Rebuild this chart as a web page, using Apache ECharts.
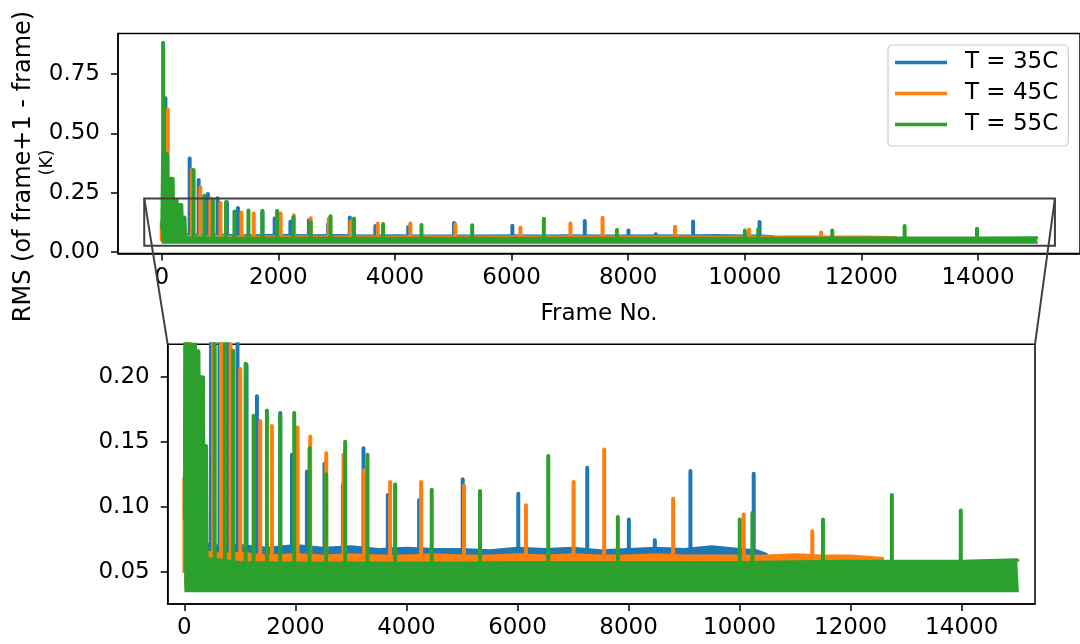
<!DOCTYPE html>
<html>
<head>
<meta charset="utf-8">
<script src="https://cdn.jsdelivr.net/npm/echarts@6/dist/echarts.min.js"></script>
<style>
  html, body { margin: 0; padding: 0; background: #fff; }
  #main { width: 1080px; height: 644px; }
</style>
</head>
<body>
<div id="main"></div>
<script>
// runs
const runNames = ["T = 35C", "T = 45C", "T = 55C"];
const runColors = ["#1f77b4", "#ff7f0e", "#2ca02c"];

// dense noisy part of each run: frame, upper edge (lower edge is a constant)
const bandFrames35 = [0, 400, 700, 1000, 1500, 2000, 2500, 3000, 3500, 4000, 4500, 5000, 5500, 6000, 6500, 7000, 7500, 8000, 8500, 9000, 9500, 10000, 10300, 10500];
const bandTop35 = [0.060, 0.071, 0.069, 0.070, 0.068, 0.070, 0.068, 0.069, 0.067, 0.068, 0.067, 0.067, 0.066, 0.068, 0.067, 0.068, 0.066, 0.067, 0.068, 0.067, 0.069, 0.067, 0.066, 0.063];
const bandBottom35 = 0.040;

const bandFrames45 = [0, 400, 700, 1000, 1500, 2000, 2500, 3000, 3500, 4000, 4500, 5000, 5500, 6000, 6500, 7000, 7500, 8000, 8500, 9000, 9500, 10000, 10500, 11000, 11500, 12000, 12600];
const bandTop45 = [0.060, 0.065, 0.063, 0.064, 0.062, 0.063, 0.062, 0.063, 0.062, 0.062, 0.063, 0.062, 0.062, 0.063, 0.062, 0.063, 0.062, 0.062, 0.063, 0.062, 0.062, 0.062, 0.062, 0.063, 0.062, 0.062, 0.060];
const bandBottom45 = 0.038;

const bandFrames55 = [0, 12, 16, 100, 104, 196, 200, 262, 266, 345, 350, 400, 410, 1000, 2000, 3000, 4000, 5000, 6000, 7000, 8000, 9000, 10000, 11000, 12000, 13000, 14000, 15000, 15030];
const bandTop55 = [0.090, 0.090, 0.415, 0.415, 0.310, 0.310, 0.220, 0.220, 0.200, 0.200, 0.147, 0.147, 0.060, 0.057, 0.0565, 0.0565, 0.0565, 0.0565, 0.057, 0.057, 0.057, 0.057, 0.057, 0.0575, 0.058, 0.058, 0.058, 0.059, 0.058];
const bandBottom55 = 0.034;

// isolated spikes: frame, peak value
const spikeFrames35 = [63, 479, 633, 793, 957, 1120, 1307, 1727, 1937, 2207, 2524, 2855, 3226, 3664, 4228, 5013, 6014, 7256, 8005, 8473, 9114, 10254];
const spikePeaks35 = [0.648, 0.394, 0.303, 0.244, 0.226, 0.209, 0.185, 0.172, 0.140, 0.127, 0.133, 0.117, 0.145, 0.109, 0.105, 0.121, 0.110, 0.130, 0.090, 0.074, 0.1275, 0.1254];

const spikeFrames45 = [0, 103, 519, 661, 833, 1007, 1367, 1577, 2039, 2267, 2555, 2866, 3238, 3706, 4264, 5037, 6152, 7010, 7561, 8803, 10074, 11309];
const spikePeaks45 = [0.122, 0.601, 0.345, 0.272, 0.225, 0.206, 0.166, 0.162, 0.161, 0.154, 0.141, 0.140, 0.128, 0.119, 0.119, 0.116, 0.101, 0.119, 0.144, 0.106, 0.094, 0.081];

const spikeFrames55 = [24, 547, 730, 878, 1103, 1247, 1487, 1727, 1979, 2255, 2555, 2896, 3298, 3796, 4455, 5325, 6554, 7807, 10002, 10230, 11501, 12742, 13983];
const spikePeaks55 = [0.883, 0.345, 0.236, 0.220, 0.210, 0.170, 0.174, 0.170, 0.172, 0.145, 0.125, 0.150, 0.140, 0.117, 0.113, 0.112, 0.139, 0.092, 0.090, 0.095, 0.090, 0.109, 0.097];

// axes
const frameTicks = [0, 2000, 4000, 6000, 8000, 10000, 12000, 14000];
const mainRmsTicks = [0, 0.25, 0.5, 0.75];
const zoomRmsTicks = [0.05, 0.10, 0.15, 0.20];
const mainFrameRange = [-750, 15750];
const mainRmsRange = [-0.007, 0.922];
const zoomFrameRange = [-300, 15320];
const zoomRmsRange = [0.025, 0.225];

const FONT = "DejaVu Sans";
const spikeBase = 0.05;

const runs = [
  { frames: bandFrames35, top: bandTop35, bottom: bandBottom35, sf: spikeFrames35, sp: spikePeaks35 },
  { frames: bandFrames45, top: bandTop45, bottom: bandBottom45, sf: spikeFrames45, sp: spikePeaks45 },
  { frames: bandFrames55, top: bandTop55, bottom: bandBottom55, sf: spikeFrames55, sp: spikePeaks55 },
];

function spikePoints(frames, peaks) {
  const pts = [];
  frames.forEach((f, i) => {
    pts.push([f, spikeBase], [f, peaks[i]], [f, spikeBase]);
  });
  return pts;
}

// z goes up with each run so later runs paint over earlier ones (area and line alike)
let series = [];
[0, 1].forEach((g) => {
  runs.forEach((r, k) => {
    const color = runColors[k];
    series.push({
      name: runNames[k],
      type: "line",
      z: 2 + k * 2,
      xAxisIndex: g,
      yAxisIndex: g,
      data: r.frames.map((f, i) => [f, r.top[i]]),
      symbol: "none",
      silent: true,
      itemStyle: { color: color },
      lineStyle: { color: color, width: 3 },
      areaStyle: { color: color, opacity: 1, origin: r.bottom },
    });
    series.push({
      name: runNames[k],
      type: "line",
      z: 3 + k * 2,
      xAxisIndex: g,
      yAxisIndex: g,
      data: spikePoints(r.sf, r.sp),
      symbol: "none",
      silent: true,
      itemStyle: { color: color },
      lineStyle: { color: color, width: 4, cap: "round", join: "round" },
    });
  });
});

function frameAxis(g, range, withName) {
  return {
    type: "value",
    gridIndex: g,
    min: range[0],
    max: range[1],
    splitLine: { show: false },
    axisLine: { show: true, onZero: false, lineStyle: { color: "#000", width: 1.5 } },
    axisTick: { show: true, customValues: frameTicks, length: 7, lineStyle: { color: "#000", width: 1.5 } },
    axisLabel: {
      customValues: frameTicks,
      fontFamily: FONT,
      fontSize: 23,
      color: "#000",
      margin: 13,
      formatter: (v) => String(v),
    },
    name: withName ? "Frame No." : "",
    nameLocation: "middle",
    nameGap: 49,
    nameTextStyle: { fontFamily: FONT, fontSize: 23, color: "#000" },
  };
}

function rmsAxis(g, range, ticks) {
  return {
    type: "value",
    gridIndex: g,
    min: range[0],
    max: range[1],
    splitLine: { show: false },
    axisLine: { show: true, onZero: false, lineStyle: { color: "#000", width: 1.5 } },
    axisTick: { show: true, customValues: ticks, length: 7, lineStyle: { color: "#000", width: 1.5 } },
    axisLabel: {
      customValues: ticks,
      fontFamily: FONT,
      fontSize: 23,
      color: "#000",
      margin: 18,
      formatter: (v) => v.toFixed(2),
    },
  };
}

const option = {
  animation: false,
  backgroundColor: "#fff",
  grid: [
    { left: 118, top: 33.4, width: 964.7, height: 220, show: true, borderColor: "#000", borderWidth: 1.5 },
    { left: 167.7, top: 344.3, width: 867.3, height: 259.7, show: true, borderColor: "#000", borderWidth: 1.5 },
  ],
  xAxis: [frameAxis(0, mainFrameRange, true), frameAxis(1, zoomFrameRange, false)],
  yAxis: [rmsAxis(0, mainRmsRange, mainRmsTicks), rmsAxis(1, zoomRmsRange, zoomRmsTicks)],
  legend: {
    orient: "vertical",
    z: 20,
    left: 888,
    top: 45,
    padding: [6, 10, 10, 7],
    itemGap: 8,
    itemWidth: 52,
    itemHeight: 3.5,
    icon: "rect",
    selectedMode: false,
    borderColor: "#cccccc",
    borderWidth: 1.2,
    borderRadius: 4,
    backgroundColor: "rgba(255,255,255,0.8)",
    formatter: (n) => "{t|" + n + "}",
    textStyle: {
      fontFamily: FONT,
      fontSize: 23,
      color: "#000",
      rich: { t: { fontFamily: FONT, fontSize: 23, color: "#000", lineHeight: 28, padding: [0, 0, 0, 13] } },
    },
    data: runNames.map((n, k) => ({ name: n, itemStyle: { color: runColors[k] } })),
  },
  series: series,
};

var myChart = echarts.init(document.getElementById("main"));
myChart.setOption(option);

// zoom box on the main panel and the two connector lines to the inset
const boxTL = myChart.convertToPixel({ xAxisIndex: 0, yAxisIndex: 0 }, [zoomFrameRange[0], zoomRmsRange[1]]);
const boxBR = myChart.convertToPixel({ xAxisIndex: 0, yAxisIndex: 0 }, [zoomFrameRange[1], zoomRmsRange[0]]);
const insTL = myChart.convertToPixel({ xAxisIndex: 1, yAxisIndex: 1 }, [zoomFrameRange[0], zoomRmsRange[1]]);
const insTR = myChart.convertToPixel({ xAxisIndex: 1, yAxisIndex: 1 }, [zoomFrameRange[1], zoomRmsRange[1]]);
const edge = { stroke: "#404040", lineWidth: 2, fill: null };

myChart.setOption({
  graphic: [
    {
      id: "ylab",
      type: "text",
      x: 24,
      y: 166.5,
      rotation: Math.PI / 2,
      style: { text: "RMS (of frame+1 - frame)", fontFamily: FONT, fontSize: 24, fill: "#000", align: "center", verticalAlign: "middle" },
    },
    {
      id: "yunit",
      type: "text",
      x: 47,
      y: 162.5,
      rotation: Math.PI / 2,
      style: { text: "(K)", fontFamily: FONT, fontSize: 18, fill: "#000", align: "center", verticalAlign: "middle" },
    },
    {
      id: "box",
      type: "rect",
      z: 30,
      shape: { x: boxTL[0], y: boxTL[1], width: boxBR[0] - boxTL[0], height: boxBR[1] - boxTL[1] },
      style: edge,
    },
    {
      id: "linkL",
      type: "line",
      z: 30,
      shape: { x1: boxTL[0], y1: boxTL[1], x2: insTL[0], y2: insTL[1] },
      style: edge,
    },
    {
      id: "linkR",
      type: "line",
      z: 30,
      shape: { x1: boxBR[0], y1: boxTL[1], x2: insTR[0], y2: insTR[1] },
      style: edge,
    },
  ],
});

window.onresize = function () {
  myChart.resize();
};
</script>
</body>
</html>
